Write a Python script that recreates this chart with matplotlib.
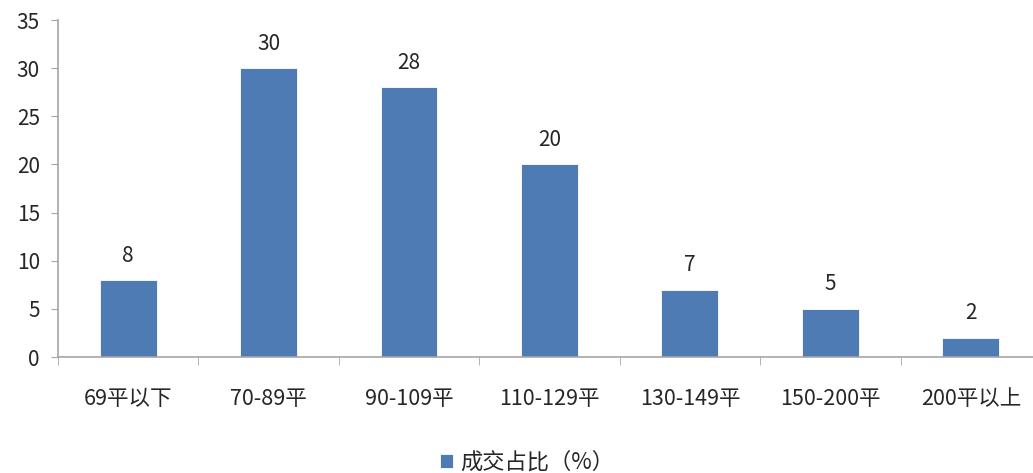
import matplotlib
matplotlib.use("Agg")
import matplotlib.pyplot as plt
import numpy as np

plt.rcParams['font.family'] = ['Noto Sans CJK SC', 'DejaVu Sans']

categories = ["69平以下", "70-89平", "90-109平", "110-129平", "130-149平", "150-200平", "200平以上"]
values = [8, 30, 28, 20, 7, 5, 2]
series_name = "成交占比（%）"
yticks = [0, 5, 10, 15, 20, 25, 30, 35]

bar_color = "#4F7BB4"
axis_color = "#A6A6A6"
text_color = "#262626"

fig = plt.figure(figsize=(10.33, 4.73), dpi=100)
ax = fig.add_axes([0.0561, 0.2452, 0.9516, 0.7125])

x = np.arange(len(categories))
bars = ax.bar(x, values, width=0.405, color=bar_color, edgecolor="white", linewidth=0.6,
              label=series_name, zorder=2)
for xi, v in zip(x, values):
    ax.text(xi, v + 1.4, str(v), ha="center", va="bottom", fontsize=15, color=text_color)

ax.set_xlim(-0.5, len(categories) - 0.5)
ax.set_ylim(0, 35)
ax.set_yticks(yticks)
ax.set_yticklabels([str(t) for t in yticks], fontsize=15, color=text_color)

ax.set_xticks(x)
ax.set_xticklabels(categories, fontsize=15.5, color=text_color)
ax.tick_params(axis="x", length=0, pad=22)
ax.set_xticks(np.arange(len(categories) + 1) - 0.5, minor=True)
ax.tick_params(axis="x", which="minor", length=6, color=axis_color, direction="out")
ax.tick_params(axis="y", length=5, color=axis_color, direction="out", pad=8)

for s in ["top", "right"]:
    ax.spines[s].set_visible(False)
ax.spines["left"].set_color(axis_color)
ax.spines["bottom"].set_color(axis_color)
ax.spines["left"].set_linewidth(1.2)
ax.spines["bottom"].set_linewidth(1.2)

leg = fig.legend(handles=[bars], labels=[series_name], loc="center", bbox_to_anchor=(0.51, 0.022),
                 frameon=False, fontsize=16, handlelength=0.6, handleheight=0.6, handletextpad=0.3)
for t in leg.get_texts():
    t.set_color(text_color)

fig.savefig("out.png", dpi=100)
